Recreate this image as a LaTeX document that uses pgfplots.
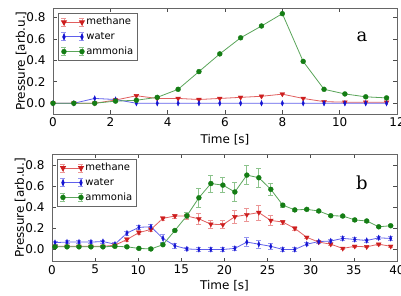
\documentclass[border=0pt]{standalone}
\usepackage{fontspec}
\setmainfont{DejaVu Sans}
\newfontfamily\serifa{DejaVu Serif}
\usepackage{pgfplots}
\usepackage{pgfplotstable}
\pgfplotsset{compat=1.18}

\definecolor{mmark}{RGB}{205,30,30}
\definecolor{mline}{RGB}{225,95,95}
\definecolor{merr}{RGB}{236,150,150}
\definecolor{wmark}{RGB}{20,20,210}
\definecolor{wline}{RGB}{95,95,235}
\definecolor{werr}{RGB}{150,150,240}
\definecolor{amark}{RGB}{20,125,20}
\definecolor{aline}{RGB}{90,165,90}
\definecolor{aerr}{RGB}{140,195,140}

\pgfplotstableread{
x m w a
0.000 0.000 0.000 0.000
0.727 0.000 0.000 0.000
1.455 0.000 0.045 0.000
2.182 0.030 0.035 0.020
2.909 0.070 0.000 0.028
3.636 0.045 0.000 0.055
4.364 0.045 0.000 0.130
5.091 0.035 0.000 0.295
5.818 0.045 0.000 0.460
6.545 0.055 0.000 0.610
7.273 0.065 0.000 0.720
8.000 0.085 0.000 0.835
8.727 0.045 0.000 0.390
9.455 0.015 0.000 0.130
10.182 0.010 0.000 0.087
10.909 0.010 0.000 0.060
11.636 0.010 0.000 0.050
}\topdata

\pgfplotstableread{
x m me w we a ae
0.35 0.030 0.010 0.065 0.015 0.025 0.010
1.74 0.030 0.010 0.070 0.015 0.025 0.010
3.13 0.030 0.010 0.070 0.015 0.025 0.010
4.52 0.030 0.010 0.070 0.015 0.025 0.010
5.91 0.030 0.010 0.075 0.015 0.025 0.010
7.30 0.040 0.010 0.050 0.015 0.030 0.010
8.69 0.095 0.020 0.155 0.020 0.025 0.010
10.08 0.160 0.020 0.210 0.020 0.010 0.010
11.47 0.190 0.020 0.215 0.025 0.005 0.010
12.86 0.295 0.020 0.105 0.035 0.045 0.010
14.25 0.317 0.020 0.035 0.025 0.180 0.010
15.64 0.317 0.030 0.005 0.015 0.320 0.030
17.03 0.290 0.050 0.000 0.015 0.490 0.090
18.42 0.240 0.040 0.000 0.015 0.625 0.080
19.81 0.235 0.040 0.000 0.015 0.610 0.070
21.20 0.310 0.060 0.010 0.015 0.545 0.090
22.59 0.330 0.060 0.070 0.040 0.705 0.090
23.98 0.350 0.070 0.050 0.040 0.680 0.090
25.37 0.275 0.050 0.030 0.030 0.570 0.060
26.76 0.260 0.020 0.000 0.015 0.420 0.020
28.15 0.200 0.015 0.000 0.015 0.375 0.010
29.54 0.115 0.010 0.050 0.015 0.380 0.010
30.93 0.070 0.010 0.075 0.015 0.365 0.010
32.32 0.050 0.010 0.080 0.015 0.320 0.010
33.71 0.010 0.010 0.105 0.015 0.317 0.010
35.10 0.030 0.010 0.095 0.015 0.280 0.010
36.49 0.025 0.010 0.085 0.015 0.270 0.010
37.88 0.050 0.010 0.110 0.015 0.215 0.010
39.27 0.030 0.010 0.105 0.015 0.225 0.010
}\botdata

\pgfplotsset{
  panel/.style={
    scale only axis,
    tick align=inside,
    major tick length=4pt,
    axis line style={black!60, line width=0.8pt},
    every tick/.style={black!70, line width=0.6pt},
    ticklabel style={font=\fontsize{12}{14}\selectfont},
    /pgf/number format/assume math mode=true,
    yticklabel style={/pgf/number format/fixed, /pgf/number format/fixed zerofill, /pgf/number format/precision=1, /tikz/xshift=-4pt},
    ytick={0,0.2,0.4,0.6,0.8},
    ylabel={Pressure [arb.u.]},
    xlabel={Time [s]},
    label style={font=\fontsize{12}{14}\selectfont},
    ylabel style={at={([xshift=-32pt]rel axis cs:0,0.5)}, anchor=center},
    legend cell align=left,
    legend style={at={(rel axis cs:0.015,0.955)}, anchor=north west,
      draw=black!60, line width=0.8pt, font=\fontsize{10}{12}\selectfont,
      inner sep=2.5pt, row sep=2.2pt,
      /tikz/every even column/.append style={column sep=6pt},
      nodes={inner sep=1.5pt, text height=7.5pt, text depth=2pt}},
  },
  mbase/.style={mline, line width=0.8pt, mark=triangle*, mark size=2.8pt,
    mark options={rotate=180, draw=mmark, fill=mmark, line width=0.3pt}},
  wbase/.style={wline, line width=0.8pt, mark=diamond*, mark size=2.8pt,
    mark options={xscale=0.6, draw=wmark, fill=wmark, line width=0.3pt}},
  abase/.style={aline, line width=0.8pt, mark=*, mark size=2.5pt,
    mark options={draw=amark, fill=amark, line width=0.3pt}},
  errs/.style={error bars/y dir=both, error bars/y explicit,
    error bars/error bar style={#1, line width=0.8pt},
    error bars/error mark options={rotate=90, #1, mark size=2.5pt, line width=0.8pt}},
  mleg/.style={legend image code/.code={
    \draw[merr, line width=0.8pt] (0pt,-4pt)--(0pt,4pt) (-2.5pt,-4pt)--(2.5pt,-4pt) (-2.5pt,4pt)--(2.5pt,4pt)
      (18pt,-4pt)--(18pt,4pt) (15.5pt,-4pt)--(20.5pt,-4pt) (15.5pt,4pt)--(20.5pt,4pt);
    \draw[mline, line width=0.8pt] (0pt,0pt)--(18pt,0pt);
    \draw[mmark, fill=mmark, only marks, mark=triangle*, mark size=2.8pt, mark options={rotate=180}] plot coordinates {(0pt,0pt) (18pt,0pt)};
  }},
  wleg/.style={legend image code/.code={
    \draw[werr, line width=0.8pt] (0pt,-4pt)--(0pt,4pt) (-2.5pt,-4pt)--(2.5pt,-4pt) (-2.5pt,4pt)--(2.5pt,4pt)
      (18pt,-4pt)--(18pt,4pt) (15.5pt,-4pt)--(20.5pt,-4pt) (15.5pt,4pt)--(20.5pt,4pt);
    \draw[wline, line width=0.8pt] (0pt,0pt)--(18pt,0pt);
    \draw[wmark, fill=wmark, only marks, mark=diamond*, mark size=2.8pt, mark options={xscale=0.6}] plot coordinates {(0pt,0pt) (18pt,0pt)};
  }},
  aleg/.style={legend image code/.code={
    \draw[aerr, line width=0.8pt] (0pt,-4pt)--(0pt,4pt) (-2.5pt,-4pt)--(2.5pt,-4pt) (-2.5pt,4pt)--(2.5pt,4pt)
      (18pt,-4pt)--(18pt,4pt) (15.5pt,-4pt)--(20.5pt,-4pt) (15.5pt,4pt)--(20.5pt,4pt);
    \draw[aline, line width=0.8pt] (0pt,0pt)--(18pt,0pt);
    \draw[amark, fill=amark, only marks, mark=*, mark size=2.5pt] plot coordinates {(0pt,0pt) (18pt,0pt)};
  }},
}

\begin{document}
\begin{tikzpicture}[x=1pt,y=1pt]
\path[use as bounding box] (0,0) rectangle (401,296);

\begin{axis}[panel,
  at={(53pt,182pt)}, anchor=south west,
  width=344pt, height=105.7pt,
  xmin=0, xmax=12, ymin=-0.1, ymax=0.885,
  xtick={0,2,4,6,8,10,12},
  xlabel style={at={([yshift=-26pt]rel axis cs:0.5,0)}, anchor=center},
]
\addplot[mbase, mleg] table[x=x, y=m] {\topdata};
\addlegendentry{methane}
\addplot[wbase, wleg] table[x=x, y=w] {\topdata};
\addlegendentry{water}
\addplot[abase, aleg] table[x=x, y=a] {\topdata};
\addlegendentry{ammonia}
\node[font=\serifa\fontsize{18}{20}\selectfont] at (rel axis cs:0.898,0.731) {a};
\end{axis}

\begin{axis}[panel,
  at={(52pt,34.4pt)}, anchor=south west,
  width=345pt, height=107.6pt,
  xmin=0, xmax=40, ymin=-0.115, ymax=0.905,
  xtick={0,5,10,15,20,25,30,35,40},
  xlabel style={at={([yshift=-24pt]rel axis cs:0.5,0)}, anchor=center},
]
\addplot[mbase, mleg, errs=merr] table[x=x, y=m, y error=me] {\botdata};
\addlegendentry{methane}
\addplot[wbase, wleg, errs=werr] table[x=x, y=w, y error=we] {\botdata};
\addlegendentry{water}
\addplot[abase, aleg, errs=aerr] table[x=x, y=a, y error=ae] {\botdata};
\addlegendentry{ammonia}
\node[font=\serifa\fontsize{18}{20}\selectfont] at (rel axis cs:0.898,0.728) {b};
\end{axis}
\end{tikzpicture}
\end{document}
